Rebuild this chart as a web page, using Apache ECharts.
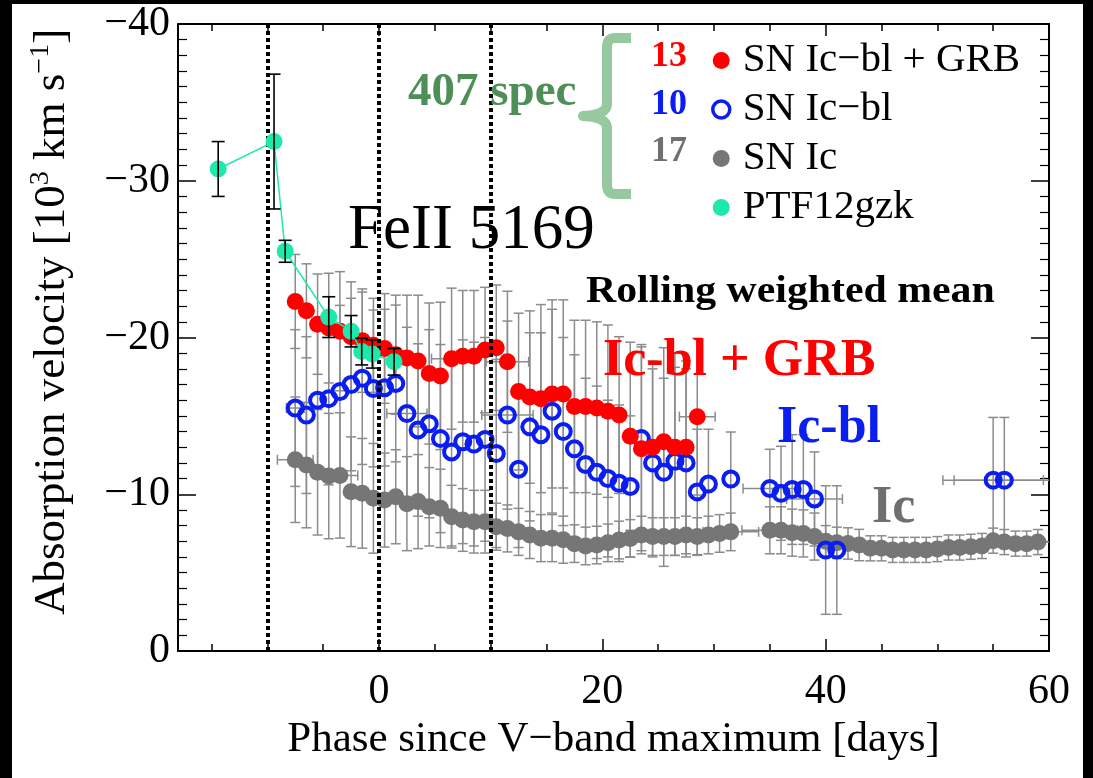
<!DOCTYPE html>
<html><head><meta charset="utf-8">
<script src="https://cdn.jsdelivr.net/npm/echarts@6/dist/echarts.min.js"></script>
<style>html,body{margin:0;padding:0;background:#fff}#c{width:1093px;height:778px}</style>
</head><body><div id="c"></div><script>
const FONT = '"Liberation Serif", "Times New Roman", serif';

// ---- data ----
const xTickValues = [0, 20, 40, 60];
const xMinorTicks = [-15, -10, -5, 5, 10, 15, 25, 30, 35, 45, 50, 55];
const yTickValues = [-40, -30, -20, -10, 0];
const yTickLabels = ['\u221240', '\u221230', '\u221220', '\u221210', '0'];
const markerPhases = [-10, 0, 10];

const grbPhase = [-7.5,-6.5,-5.5,-4.5,-3.5,-2.5,-1.5,-0.5,0.5,1.5,2.5,3.5,4.5,5.5,6.5,7.5,8.5,9.5,10.5,11.5,12.5,13.5,14.5,15.5,16.5,17.5,18.5,19.5,20.5,21.5,22.5,23.5,24.5,25.5,26.5,27.5,28.5];
const grbVel   = [-22.3,-21.7,-20.85,-20.6,-20.4,-20.05,-19.8,-19.5,-19.3,-18.9,-18.7,-18.5,-17.7,-17.55,-18.65,-18.8,-18.8,-19.2,-19.35,-18.45,-16.55,-16.2,-16.1,-16.4,-16.4,-15.6,-15.6,-15.5,-15.3,-15.05,-13.7,-12.9,-13.0,-13.35,-13.0,-13.0,-14.95];
const grbErr   = [3.0,3.0,3.2,3.5,3.8,3.5,3.3,3.0,3.5,3.8,4.0,4.2,4.5,4.7,4.5,4.2,4.2,4.0,4.0,4.5,5.0,5.5,6.0,6.0,6.0,5.5,5.5,5.5,5.5,5.0,6.0,6.5,5.5,6.0,6.0,5.5,5.0];
const grbXErr  = [0,0,0,0,0,0,0,0,0,0,0,0,0,0,1.8,0,0,0,0,1.9,0,0,0,0,0,0,0,0,0,0,0,0,0,0,0,0,1.6];

const blPhase = [-7.5,-6.5,-5.5,-4.5,-3.5,-2.5,-1.5,-0.5,0.5,1.5,2.5,3.5,4.5,5.5,6.5,7.5,8.5,9.5,10.5,11.5,12.5,13.5,14.5,15.5,16.5,17.5,18.5,19.5,20.5,21.5,22.5,23.5,24.5,25.5,26.5,27.5,28.5,29.5,31.5,35,36,37,38,39,40,41,55,56];
const blVel   = [-15.5,-15.05,-16.0,-16.1,-16.55,-17.0,-17.4,-16.75,-16.8,-17.07,-15.15,-14.1,-14.5,-13.55,-12.7,-13.35,-13.2,-13.5,-12.6,-15.05,-11.6,-14.3,-13.8,-15.3,-14.0,-12.9,-11.9,-11.4,-11.0,-10.7,-10.5,-13.55,-12.0,-11.4,-12.1,-12.0,-10.15,-10.65,-10.97,-10.37,-10.06,-10.3,-10.3,-9.7,-6.44,-6.44,-10.9,-10.9];
const blErr   = [5.0,5.0,5.0,5.5,5.5,5.5,5.5,5.0,5.0,5.0,5.5,5.5,6.0,6.0,6.0,6.5,6.5,6.5,6.0,6.0,5.0,6.0,6.5,6.5,6.0,6.0,5.5,5.5,5.0,5.0,4.5,6.0,6.0,6.0,6.0,6.0,4.0,3.5,3.0,2.5,3.0,3.5,3.5,3.0,4.1,4.1,4.0,4.0];
const blXErr  = [0.8,0,0,0,0,0,0,0,0,0,1.8,0,0,0,0,0,0,0,0,2.3,0,0,0,0,0,0,0,0,0,0,0,0,0,0,0,0,0,0,0,2.4,0,0,0,2.5,0,0,4.5,4.5];

const icPhase = [-7.5,-6.5,-5.5,-4.5,-3.5,-2.5,-1.5,-0.5,0.5,1.5,2.5,3.5,4.5,5.5,6.5,7.5,8.5,9.5,10.5,11.5,12.5,13.5,14.5,15.5,16.5,17.5,18.5,19.5,20.5,21.5,22.5,23.5,24.5,25.5,26.5,27.5,28.5,29.5,30.5,31.5,35,36,37,38,39,40,41,42,43,44,45,46,47,48,49,50,51,52,53,54,55,56,57,58,59];
const icVel   = [-12.2,-11.86,-11.4,-11.16,-11.2,-10.16,-10.06,-9.74,-9.63,-9.84,-9.4,-9.53,-9.2,-9.1,-8.57,-8.36,-8.25,-8.25,-7.93,-7.82,-7.6,-7.4,-7.2,-7.2,-7.1,-6.85,-6.7,-6.76,-6.9,-7.08,-7.18,-7.4,-7.3,-7.3,-7.3,-7.4,-7.3,-7.4,-7.5,-7.6,-7.7,-7.7,-7.55,-7.5,-7.3,-7.0,-6.9,-6.86,-6.76,-6.55,-6.55,-6.45,-6.45,-6.45,-6.45,-6.5,-6.6,-6.6,-6.65,-6.7,-7.04,-6.95,-6.85,-6.85,-6.95];
const icErr   = [4.0,4.0,4.0,4.0,4.0,3.5,3.5,3.5,3.0,3.0,3.0,3.0,2.5,2.5,2.0,2.0,2.0,2.0,1.5,1.5,1.5,1.5,1.5,1.5,1.5,1.2,1.2,1.2,1.2,1.2,1.2,1.2,1.2,1.2,1.2,1.2,1.2,1.2,1.2,1.2,1.5,1.5,1.5,1.5,1.5,1.0,1.0,1.0,1.0,0.8,0.8,0.8,0.8,0.8,0.8,0.8,0.8,0.8,0.8,0.8,0.8,0.8,0.8,0.8,0.8];
const icXErr  = [1.6,0,0,0,1.6,0,0,0,0,0,0,0,0,0,0,0,0,0,0,0,0,0,0,0,0,0,0,0,0,0,0,0,0,0,0,0,0,0,0,2.5,2.5,0,0,0,0,0,0,0,0,0,0,0,0,0,0,0,0,0,0,0,0,0,0,0,1.5];

const ptfPhase = [-14.4,-9.4,-8.4,-4.5,-2.5,-1.55,-0.6,1.35];
const ptfVel   = [-30.75,-32.5,-25.5,-21.3,-20.4,-19.1,-18.95,-18.45];
const ptfErr   = [1.75,4.3,0.7,1.3,1.0,0.85,0.9,0.85];

const legendCounts = ['13', '10', '17'];
const names = ['SN Ic\u2212bl + GRB', 'SN Ic\u2212bl', 'SN Ic', 'PTF12gzk'];

// ---- colours ----
const RED = '#ff0000', BLUE = '#0a1ef2', GRAY = '#767676', CYAN = '#1de9ac', ERR = '#8c8c8c';

function rows(a, b, c, d) { return a.map((v, i) => [v, b[i], c[i], d ? d[i] : 0]); }

function errSeries(id, data, color, cap, lw, z) {
  return {
    type: 'custom', id, name: id, z, silent: true, clip: true,
    xAxisIndex: 0, yAxisIndex: 0, encode: { x: 0, y: 1 },
    emphasis: { disabled: true },
    data,
    renderItem(params, api) {
      const x = api.value(0), y = api.value(1), ey = api.value(2), ex = api.value(3);
      const c = api.coord([x, y]);
      const t = api.coord([x, y - ey]), b = api.coord([x, y + ey]);
      const st = { stroke: color, lineWidth: lw };
      const ch = [
        { type: 'line', shape: { x1: c[0], y1: t[1], x2: c[0], y2: b[1] }, style: st },
        { type: 'line', shape: { x1: c[0] - cap, y1: t[1], x2: c[0] + cap, y2: t[1] }, style: st },
        { type: 'line', shape: { x1: c[0] - cap, y1: b[1], x2: c[0] + cap, y2: b[1] }, style: st }
      ];
      if (ex > 0) {
        const l = api.coord([x - ex, y]), r = api.coord([x + ex, y]);
        ch.push({ type: 'line', shape: { x1: l[0], y1: c[1], x2: r[0], y2: c[1] }, style: st });
        ch.push({ type: 'line', shape: { x1: l[0], y1: c[1] - cap, x2: l[0], y2: c[1] + cap }, style: st });
        ch.push({ type: 'line', shape: { x1: r[0], y1: c[1] - cap, x2: r[0], y2: c[1] + cap }, style: st });
      }
      return { type: 'group', children: ch };
    }
  };
}

const axisLineStyle = { color: '#000', width: 2 };
function xAx(pos, ticks, len, showLine, showLabel) {
  return {
    type: 'value', position: pos, min: -18, max: 60, gridIndex: 0,
    axisLine: { show: showLine, onZero: false, lineStyle: axisLineStyle },
    axisTick: { show: true, inside: true, length: len, customValues: ticks, lineStyle: { color: '#000', width: 1.5 } },
    axisLabel: { show: showLabel, customValues: xTickValues, fontFamily: FONT, fontSize: 42, color: '#000', margin: 20 },
    splitLine: { show: false }
  };
}
function yAx(pos, showLabel) {
  return {
    type: 'value', position: pos, min: -40, max: 0, interval: 10, inverse: true,
    axisLine: { show: true, onZero: false, lineStyle: axisLineStyle },
    axisTick: { show: true, inside: true, length: 18, lineStyle: { color: '#000', width: 1.5 } },
    minorTick: { show: true, splitNumber: 10, length: 9, lineStyle: { color: '#000', width: 1.2 } },
    axisLabel: { show: showLabel, fontFamily: FONT, fontSize: 42, color: '#000', margin: 8,
      formatter: v => { const i = yTickValues.indexOf(v); return i >= 0 ? yTickLabels[i] : ''; } },
    splitLine: { show: false }, minorSplitLine: { show: false }
  };
}

const xAxes = [xAx('bottom', xTickValues, 12, true, true), xAx('bottom', xMinorTicks, 7, false, false),
               xAx('top', xTickValues, 12, true, false), xAx('top', xMinorTicks, 7, false, false)];
Object.assign(xAxes[0], {
  name: 'Phase since V\u2212band maximum [days]', nameLocation: 'middle', nameGap: 64,
  nameTextStyle: { fontFamily: FONT, fontSize: 43, color: '#000' }
});
const yAxes = [yAx('left', true), yAx('right', false)];
Object.assign(yAxes[0], {
  name: 'Absorption velocity [10{s|3} km s{s|\u22121}]', nameLocation: 'middle', nameGap: 101,
  nameTextStyle: { fontFamily: FONT, fontSize: 45, color: '#000', lineHeight: 50, padding: [0, 0, 0, 31],
    rich: { s: { fontFamily: FONT, fontSize: 28, color: '#000', verticalAlign: 'top', lineHeight: 28 } } }
});

function txt(text, x, y, font, fill, align, extra) {
  return Object.assign({ type: 'text', x, y, z: 50, silent: true,
    style: { text, font, fill, textAlign: align || 'left', textVerticalAlign: 'middle' } }, extra || {});
}

// curly brace drawn as a polyline (decoration only)
function quad(p0, c, p1, n) {
  const out = [];
  for (let i = 1; i <= n; i++) {
    const t = i / n, u = 1 - t;
    out.push([u * u * p0[0] + 2 * u * t * c[0] + t * t * p1[0], u * u * p0[1] + 2 * u * t * c[1] + t * t * p1[1]]);
  }
  return out;
}
const bracePts = [[631, 38], [615, 38]]
  .concat(quad([615, 38], [607, 38], [607, 47], 6))
  .concat([[607, 104]])
  .concat(quad([607, 104], [607, 115], [583, 116], 8))
  .concat(quad([583, 116], [607, 117], [607, 128], 8))
  .concat([[607, 185]])
  .concat(quad([607, 185], [607, 194], [615, 194], 6))
  .concat([[631, 194]]);

const option = {
  animation: false,
  backgroundColor: '#fff',
  grid: { left: 178, right: 44, top: 24, bottom: 127, containLabel: false },
  xAxis: xAxes,
  yAxis: yAxes,
  legend: {
    orient: 'vertical', left: 706, top: 35, itemWidth: 17, itemHeight: 17, itemGap: 8,
    selectedMode: false,
    textStyle: { fontFamily: FONT, fontSize: 41, color: '#000', padding: [0, 0, 0, 8], lineHeight: 40 },
    data: [
      { name: names[0], icon: 'circle' },
      { name: names[1], icon: 'circle', itemStyle: { color: 'rgba(0,0,0,0)', borderColor: BLUE, borderWidth: 3.5 } },
      { name: names[2], icon: 'circle' },
      { name: names[3], icon: 'circle' }
    ]
  },
  graphic: [
    { type: 'rect', z: 100, silent: true, shape: { x: 0, y: 0, width: 12, height: 778 }, style: { fill: '#000' } },
    { type: 'rect', z: 100, silent: true, shape: { x: 0, y: 0, width: 1093, height: 4 }, style: { fill: '#000' } },
    { type: 'rect', z: 100, silent: true, shape: { x: 1083, y: 0, width: 10, height: 778 }, style: { fill: '#000' } },
    { type: 'polyline', z: 40, silent: true, shape: { points: bracePts },
      style: { fill: null, stroke: '#96c9a0', lineWidth: 10, lineJoin: 'round' } },
    txt('407 spec', 408, 93, 'bold 47px ' + FONT, '#4d8f56'),
    txt(legendCounts[0], 687, 57, 'bold 36px ' + FONT, RED, 'right'),
    txt(legendCounts[1], 687, 105, 'bold 36px ' + FONT, BLUE, 'right'),
    txt(legendCounts[2], 687, 152, 'bold 36px ' + FONT, '#707070', 'right'),
    txt('FeII 5169', 348, 231, '63px ' + FONT, '#000'),
    txt('Rolling weighted mean', 586, 292, 'bold 38px ' + FONT, '#000', 'left', { scaleX: 1.1 }),
    txt('Ic-bl + GRB', 603, 362, 'bold 52px ' + FONT, RED),
    txt('Ic-bl', 777, 429, 'bold 52px ' + FONT, BLUE),
    txt('Ic', 872, 509, 'bold 52px ' + FONT, '#6f6f6f')
  ],
  series: [
    errSeries('err-ic', rows(icPhase, icVel, icErr, icXErr), ERR, 5, 1.5, 1),
    errSeries('err-bl', rows(blPhase, blVel, blErr, blXErr), ERR, 5, 1.5, 1),
    errSeries('err-grb', rows(grbPhase, grbVel, grbErr, grbXErr), ERR, 5, 1.5, 1),
    { type: 'scatter', name: names[2], z: 2, symbol: 'circle', symbolSize: 17, silent: true,
      itemStyle: { color: GRAY, opacity: 1 }, emphasis: { disabled: true },
      data: icPhase.map((p, i) => [p, icVel[i]]) },
    { type: 'scatter', name: names[1], z: 3, symbol: 'circle', symbolSize: 15, silent: true,
      itemStyle: { color: 'rgba(0,0,0,0)', borderColor: BLUE, borderWidth: 4, opacity: 1 }, emphasis: { disabled: true },
      data: blPhase.map((p, i) => [p, blVel[i]]) },
    { type: 'scatter', name: names[0], z: 4, symbol: 'circle', symbolSize: 17, silent: true,
      itemStyle: { color: RED, opacity: 1 }, emphasis: { disabled: true },
      data: grbPhase.map((p, i) => [p, grbVel[i]]) },
    { type: 'line', name: names[3], z: 5, symbol: 'circle', symbolSize: 17, showSymbol: true, silent: true,
      itemStyle: { color: CYAN, opacity: 1 }, lineStyle: { color: CYAN, width: 1.5 }, emphasis: { disabled: true },
      data: ptfPhase.map((p, i) => [p, ptfVel[i]]) },
    errSeries('err-ptf', rows(ptfPhase, ptfVel, ptfErr), '#000', 6.5, 1.6, 6),
    { type: 'line', name: 'phase-markers', z: 10, data: [], silent: true,
      markLine: { silent: true, symbol: ['none', 'none'], label: { show: false }, emphasis: { disabled: true },
        lineStyle: { color: '#000', width: 4, type: [4, 3] },
        data: markerPhases.map(v => ({ xAxis: v })) } }
  ]
};

const chart = echarts.init(document.getElementById('c'), null, { renderer: 'canvas' });
chart.setOption(option);
</script></body></html>
